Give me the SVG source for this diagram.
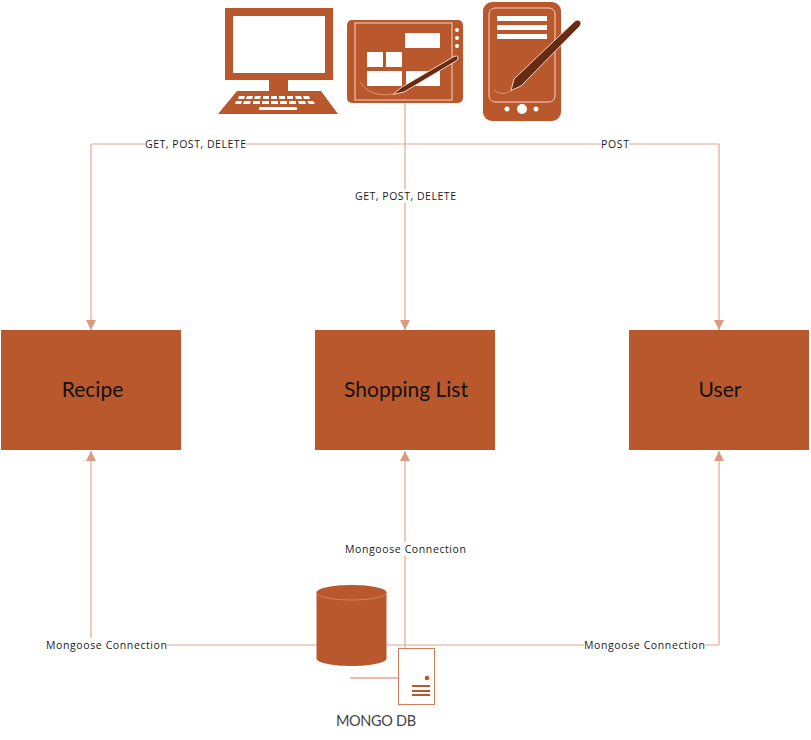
<svg xmlns="http://www.w3.org/2000/svg" width="811" height="740" viewBox="0 0 811 740">
<style>
.fill{fill:#b9582c}
.w{fill:#fff}
.con{fill:none;stroke:#e2a88f;stroke-width:1.2}
.lab{font-family:"Open Sans","Liberation Sans",sans-serif;font-size:10.5px;fill:#1a1a1a;text-anchor:middle}
.node{font-family:Lato,"Liberation Sans",sans-serif;font-size:21px;fill:#111;text-anchor:middle}
.bg{fill:#fff}
.pen{fill:#672a12;stroke:#f3d9cb;stroke-width:1}
.trace{fill:none;stroke:#e8a583;stroke-width:.8}
.outline{fill:none;stroke:#f3d3c2;stroke-width:1}
</style>
<defs>
<marker id="arr" markerWidth="10" markerHeight="10" refX="10" refY="5" orient="auto" markerUnits="userSpaceOnUse"><path d="M0 0L10 5L0 10Z" fill="#dc9a7f"/></marker>
</defs>
<rect width="811" height="740" fill="#fff"/>
<g id="connectors">
<path class="con" d="M405 103V330" marker-end="url(#arr)"/>
<path class="con" d="M91 144H719"/>
<path class="con" d="M91 144V330" marker-end="url(#arr)"/>
<path class="con" d="M719 144V330" marker-end="url(#arr)"/>
<path class="con" d="M91 645H719"/>
<path class="con" d="M91 645V451" marker-end="url(#arr)"/>
<path class="con" d="M405 648V451" marker-end="url(#arr)"/>
<path class="con" d="M719 645V451" marker-end="url(#arr)"/>
<g id="connector-labels">
<rect class="bg" x="145" y="137" width="101" height="14"/><text class="lab" x="195.500" y="148" textLength="101">GET, POST, DELETE</text>
<rect class="bg" x="601" y="137" width="28" height="14"/><text class="lab" x="615" y="148" textLength="28">POST</text>
<rect class="bg" x="355" y="189" width="101" height="14"/><text class="lab" x="405.500" y="200" textLength="101">GET, POST, DELETE</text>
<rect class="bg" x="345" y="542" width="121" height="14"/><text class="lab" x="405.500" y="553" textLength="121">Mongoose Connection</text>
<rect class="bg" x="46" y="638" width="121" height="14"/><text class="lab" x="106.500" y="649" textLength="121">Mongoose Connection</text>
<rect class="bg" x="584" y="638" width="121" height="14"/><text class="lab" x="644.500" y="649" textLength="121">Mongoose Connection</text>
</g>
</g>
<g id="computer">
<path class="fill" fill-rule="evenodd" d="M225 8H333V80H288V91H321L338 114H218L237 91H269V80H225ZM233 16V73H325V16Z"/>
<g class="w">
<path d="M239 96h6l-1 3h-6zM247 96h6l-1 3h-6zM255 96h6l-1 3h-6zM263 96h6v3h-6zM271 96h6v3h-6zM279 96h6v3h-6zM287 96h6v3h-6zM295 96h6l1 3h-6zM303 96h6l1 3h-6z"/>
<path d="M236 101h6l-1 3h-6zM244 101h7l-1 3h-7zM253 101h7v3h-7zM262 101h7v3h-7zM271 101h7v3h-7zM280 101h7v3h-7zM289 101h7v3h-7zM298 101h7l1 3h-7zM307 101h6l2 3h-6z"/>
<rect x="259" y="107" width="38" height="3"/>
</g>
</g>
<g id="tablet">
<rect class="fill" x="347" y="20" width="116" height="83" rx="5"/>
<rect class="outline" x="355" y="23" width="97" height="77"/>
<g class="w">
<rect x="405" y="33" width="35" height="15"/>
<rect x="367" y="52" width="16" height="15"/>
<rect x="386" y="52" width="16" height="15"/>
<rect x="367" y="71" width="35" height="15"/>
<rect x="406" y="71" width="34" height="15"/>
<circle cx="457" cy="30" r="2"/><circle cx="457" cy="38" r="2"/><circle cx="457" cy="46" r="2"/>
</g>
<path class="trace" d="M360 82C366 90 374 97 393 94"/>
<path class="pen" d="M393 94.500L402 87L454 56.500Q457 55 458 57Q459 59 456 61L404 92Z"/>
</g>
<g id="phone">
<rect class="fill" x="483" y="2" width="78" height="119" rx="9"/>
<rect class="outline" x="489" y="8" width="66" height="94" rx="6"/>
<g class="w">
<rect x="497" y="16" width="50" height="5"/>
<rect x="497" y="25" width="50" height="5"/>
<rect x="497" y="34" width="50" height="5"/>
<circle cx="507" cy="109" r="2.500"/><circle cx="522" cy="109" r="5"/><circle cx="536" cy="109" r="2.500"/>
</g>
<path class="trace" d="M494 90C500 95 506 94 512 90"/>
<path class="pen" d="M511 90.500L514 79L575 21Q578 19 580 21Q582 23 580 26L521 86Z"/>
</g>
<g id="recipe"><rect class="fill" x="1" y="330" width="180" height="120"/><text class="node" x="92.500" y="397">Recipe</text></g>
<g id="shopping-list"><rect class="fill" x="315" y="330" width="180" height="120"/><text class="node" x="406" y="397">Shopping List</text></g>
<g id="user"><rect class="fill" x="629" y="330" width="180" height="120"/><text class="node" x="720" y="397">User</text></g>
<g id="mongo-db">
<path class="fill" d="M316.500 592.500V658.500C316.500 662.600 332 666 351.500 666S386.500 662.600 386.500 658.500V592.500C386.500 588.400 371 585 351.500 585S316.500 588.400 316.500 592.500Z"/>
<path fill="none" stroke="#d98f6e" stroke-width=".8" d="M316.500 592.500C316.500 596.600 332 600 351.500 600S386.500 596.600 386.500 592.500"/>
<path fill="none" stroke="#cf7d5c" stroke-width="1" d="M350 678H398"/>
<rect x="398.500" y="648.500" width="36" height="56" fill="#fff" stroke="#cf7d5c" stroke-width="1"/>
<circle cx="427" cy="678" r="2.300" fill="#b9582c"/>
<path fill="none" stroke="#b9582c" stroke-width="1.800" d="M412 686H430M412 691H430M412 695H430"/>
<text x="376" y="726" text-anchor="middle" font-family="Lato,'Liberation Sans',sans-serif" font-size="14.500" fill="#444" textLength="80">MONGO DB</text>
</g>
</svg>
